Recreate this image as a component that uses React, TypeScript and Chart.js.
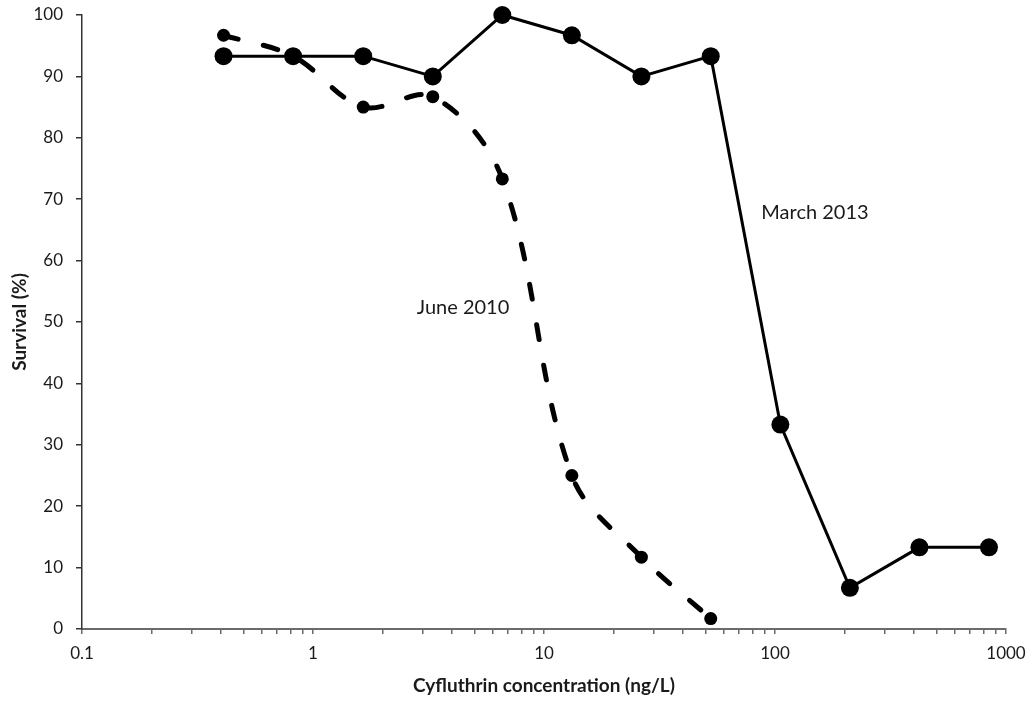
import React, { useEffect, useRef } from "react";
import { Chart, registerables } from "chart.js";

Chart.register(...registerables);

// Concentrations (ng/L)
const concentrations = [0.41, 0.82, 1.65, 3.3, 6.6, 13.2, 26.4, 52.7, 105.5, 211, 422, 844];
// Survival (%)
const march2013 = [93.3, 93.3, 93.3, 90, 100, 96.7, 90, 93.3, 33.3, 6.7, 13.3, 13.3];
const june2010 = [96.7, 93.3, 85, 86.7, 73.3, 25, 11.7, 1.7];

const seriesNames = ["March 2013", "June 2010"];
const xMajorTicks = [0.1, 1, 10, 100, 1000];
const yTicks = [0, 10, 20, 30, 40, 50, 60, 70, 80, 90, 100];

const xTitle = "Cyfluthrin concentration (ng/L)";
const yTitle = "Survival (%)";

// Series labels placed in data space
const labelTexts = ["June 2010", "March 2013"];
const labelX = [4.46, 149];
const labelY = [52.3, 67.9];

const FONT = "Lato, 'Open Sans', sans-serif";

export default function App() {
  const ref = useRef<HTMLCanvasElement | null>(null);

  useEffect(() => {
    if (!ref.current) return;

    const annotate = {
      id: "annotate",
      afterDraw(chart: any) {
        const ctx = chart.ctx;
        const xs = chart.scales.x;
        const ys = chart.scales.y;
        const area = chart.chartArea;
        ctx.save();
        ctx.fillStyle = "#1a1a1a";
        ctx.textAlign = "center";
        ctx.textBaseline = "middle";
        ctx.font = `20px ${FONT}`;
        labelTexts.forEach((t, i) => {
          ctx.fillText(t, xs.getPixelForValue(labelX[i]), ys.getPixelForValue(labelY[i]));
        });
        ctx.font = `bold 19px ${FONT}`;
        ctx.fillText(xTitle, (area.left + area.right) / 2, 686);
        ctx.translate(20, (area.top + area.bottom) / 2);
        ctx.rotate(-Math.PI / 2);
        ctx.fillText(yTitle, 0, 0);
        ctx.restore();
      },
    };

    const zeroPad = (scale: any) => {
      scale.paddingTop = 0;
      scale.paddingBottom = 0;
      scale.paddingLeft = 0;
      scale.paddingRight = 0;
    };

    const chart = new Chart(ref.current, {
      type: "line",
      data: {
        datasets: [
          {
            label: seriesNames[1],
            data: june2010.map((v, i) => ({ x: concentrations[i], y: v })),
            borderColor: "#000",
            backgroundColor: "#000",
            borderWidth: 5,
            borderDash: [15, 26],
            borderCapStyle: "round",
            tension: 0.35,
            pointRadius: 6.5,
            pointBorderWidth: 0,
            pointBackgroundColor: "#000",
            fill: false,
            clip: false,
          },
          {
            label: seriesNames[0],
            data: march2013.map((v, i) => ({ x: concentrations[i], y: v })),
            borderColor: "#000",
            backgroundColor: "#000",
            borderWidth: 3,
            tension: 0,
            pointRadius: 9,
            pointBorderWidth: 0,
            pointBackgroundColor: "#000",
            fill: false,
            clip: false,
          },
        ],
      },
      options: {
        responsive: false,
        animation: false,
        devicePixelRatio: 1,
        layout: { padding: { top: 15, right: 26, bottom: 0, left: 0 } },
        plugins: {
          legend: { display: false },
          tooltip: { enabled: false },
          title: { display: false },
        },
        scales: {
          x: {
            type: "logarithmic",
            min: 0.1,
            max: 1000,
            afterBuildTicks(scale: any) {
              const t: any[] = [];
              for (let d = 0; d < xMajorTicks.length; d++) {
                const base = xMajorTicks[d];
                if (d === xMajorTicks.length - 1) {
                  t.push({ value: base });
                } else {
                  for (let k = 1; k <= 9; k++) t.push({ value: parseFloat((base * k).toPrecision(6)) });
                }
              }
              scale.ticks = t;
            },
            afterFit(scale: any) {
              scale.height = 74;
              zeroPad(scale);
            },
            ticks: {
              autoSkip: false,
              maxRotation: 0,
              minRotation: 0,
              padding: 9,
              color: "#1a1a1a",
              font: { family: FONT, size: 17 },
              callback: (v: any) => (xMajorTicks.includes(Number(v)) ? String(v) : ""),
            },
            grid: {
              drawOnChartArea: false,
              drawTicks: true,
              tickLength: 5,
              color: "#6b6b6b",
              lineWidth: 1.5,
            },
            border: { display: true, color: "#6b6b6b", width: 2 },
          },
          y: {
            type: "linear",
            min: 0,
            max: 100,
            afterBuildTicks(scale: any) {
              scale.ticks = yTicks.map((v) => ({ value: v }));
            },
            afterFit(scale: any) {
              scale.width = 82;
              zeroPad(scale);
            },
            ticks: {
              stepSize: 10,
              padding: 13,
              color: "#1a1a1a",
              font: { family: FONT, size: 17 },
            },
            grid: {
              drawOnChartArea: false,
              drawTicks: true,
              tickLength: 6,
              color: "#333",
              lineWidth: 1.5,
            },
            border: { display: true, color: "#333", width: 1.5 },
          },
        },
      },
      plugins: [annotate],
    } as any);

    return () => chart.destroy();
  }, []);

  return (
    <div style={{ position: "absolute", left: 0, top: 0, width: 1032, height: 703, background: "#fff" }}>
      <canvas ref={ref} width={1032} height={703} style={{ display: "block" }} />
    </div>
  );
}
